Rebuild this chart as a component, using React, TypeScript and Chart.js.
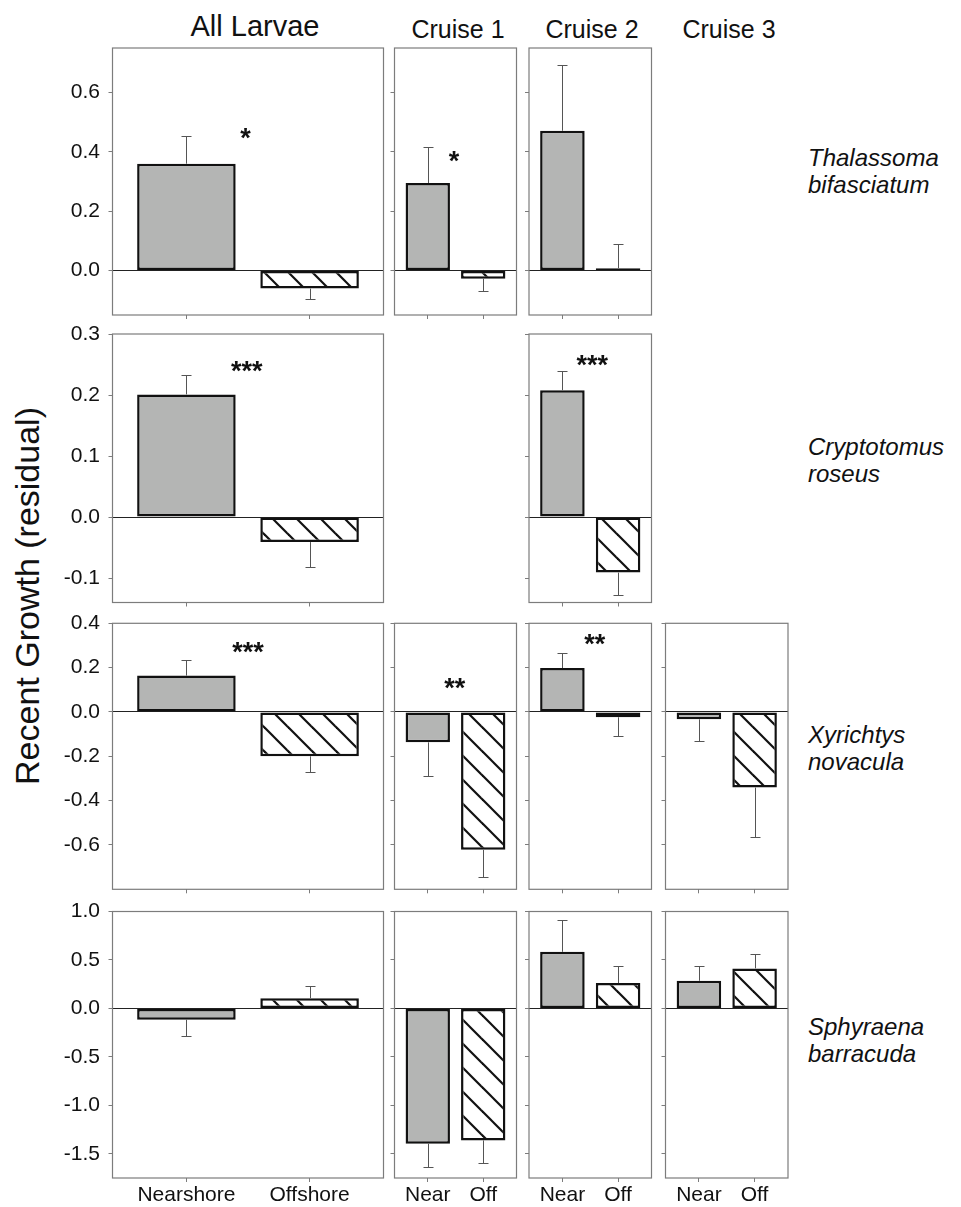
import React, { useEffect, useRef } from 'react';
import { Chart, registerables } from 'chart.js';

Chart.register(...registerables);

const FONT = '"Liberation Sans", Arial, Helvetica, sans-serif';

// ---------------- DATA ----------------
const columnTitles = ['All Larvae', 'Cruise 1', 'Cruise 2', 'Cruise 3'];
const speciesLine1 = ['Thalassoma', 'Cryptotomus', 'Xyrichtys', 'Sphyraena'];
const speciesLine2 = ['bifasciatum', 'roseus', 'novacula', 'barracuda'];
const allLabels = ['Nearshore', 'Offshore'];
const cruiseLabels = ['Near', 'Off'];
const yAxisTitle = 'Recent Growth (residual)';

const rowMin = [-0.15, -0.14, -0.8, -1.75];
const rowMax = [0.75, 0.3, 0.4, 1.0];
const ticksThal = [0, 0.2, 0.4, 0.6];
const ticksCryp = [-0.1, 0, 0.1, 0.2, 0.3];
const ticksXyr = [-0.6, -0.4, -0.2, 0, 0.2, 0.4];
const ticksSphy = [-1.5, -1.0, -0.5, 0, 0.5, 1.0];

// [Nearshore, Offshore] means and standard errors
const thalAll = [0.36, -0.061];
const thalAllSE = [0.094, 0.036];
const thalC1 = [0.295, -0.028];
const thalC1SE = [0.121, 0.042];
const thalC2 = [0.471, 0.008];
const thalC2SE = [0.221, 0.08];

const crypAll = [0.201, -0.041];
const crypAllSE = [0.031, 0.041];
const crypC2 = [0.208, -0.091];
const crypC2SE = [0.032, 0.037];

const xyrAll = [0.164, -0.2];
const xyrAllSE = [0.069, 0.07];
const xyrC1 = [-0.137, -0.622];
const xyrC1SE = [0.154, 0.121];
const xyrC2 = [0.198, -0.024];
const xyrC2SE = [0.07, 0.083];
const xyrC3 = [-0.033, -0.341];
const xyrC3SE = [0.097, 0.222];

const sphyAll = [-0.117, 0.106];
const sphyAllSE = [0.172, 0.128];
const sphyC1 = [-1.396, -1.362];
const sphyC1SE = [0.242, 0.238];
const sphyC2 = [0.584, 0.261];
const sphyC2SE = [0.324, 0.179];
const sphyC3 = [0.285, 0.413];
const sphyC3SE = [0.152, 0.144];

// significance marks: text, x (category units), y (value at glyph centre)
const starsThalAll = ['*', 0.48, 0.469];
const starsThalC1 = ['*', 0.475, 0.389];
const starsCrypAll = ['***', 0.49, 0.25];
const starsCrypC2 = ['***', 0.536, 0.259];
const starsXyrAll = ['***', 0.5, 0.3];
const starsXyrC1 = ['**', 0.485, 0.136];
const starsXyrC2 = ['**', 0.58, 0.334];

// ---------------- LAYOUT ----------------
const colX = [112.5, 394.5, 529, 665.5];
const colW = [271, 122, 122.5, 122.5];
const rowY = [48, 334, 623.3, 911.5];
const rowH = [267, 268.5, 266, 266.5];
const rowTicks = [ticksThal, ticksCryp, ticksXyr, ticksSphy];

const GRAY = '#b4b5b4';

type PanelDef = {
  row: number;
  col: number;
  means: number[];
  se: number[];
  stars?: any[];
};

const panels: PanelDef[] = [
  { row: 0, col: 0, means: thalAll, se: thalAllSE, stars: starsThalAll },
  { row: 0, col: 1, means: thalC1, se: thalC1SE, stars: starsThalC1 },
  { row: 0, col: 2, means: thalC2, se: thalC2SE },
  { row: 1, col: 0, means: crypAll, se: crypAllSE, stars: starsCrypAll },
  { row: 1, col: 2, means: crypC2, se: crypC2SE, stars: starsCrypC2 },
  { row: 2, col: 0, means: xyrAll, se: xyrAllSE, stars: starsXyrAll },
  { row: 2, col: 1, means: xyrC1, se: xyrC1SE, stars: starsXyrC1 },
  { row: 2, col: 2, means: xyrC2, se: xyrC2SE, stars: starsXyrC2 },
  { row: 2, col: 3, means: xyrC3, se: xyrC3SE },
  { row: 3, col: 0, means: sphyAll, se: sphyAllSE },
  { row: 3, col: 1, means: sphyC1, se: sphyC1SE },
  { row: 3, col: 2, means: sphyC2, se: sphyC2SE },
  { row: 3, col: 3, means: sphyC3, se: sphyC3SE },
];

function makeHatch(ctx: CanvasRenderingContext2D) {
  const s = 24;
  const c = document.createElement('canvas');
  c.width = s;
  c.height = s;
  const g = c.getContext('2d')!;
  g.fillStyle = '#ffffff';
  g.fillRect(0, 0, s, s);
  g.strokeStyle = '#111111';
  g.lineWidth = 2.2;
  for (const k of [-1, 0, 1]) {
    g.beginPath();
    g.moveTo(k * s - 4, -4);
    g.lineTo(k * s + s + 4, s + 4);
    g.stroke();
  }
  return ctx.createPattern(c, 'repeat');
}

function Panel({ p }: { p: PanelDef }) {
  const ref = useRef<HTMLCanvasElement>(null);
  const px = colX[p.col];
  const pw = colW[p.col];
  const py = rowY[p.row];
  const ph = rowH[p.row];
  const showY = p.col === 0;
  const showX = p.row === 3;
  const L0 = showY ? 112 : 8;
  const cl = Math.floor(px) - L0;
  const ct = Math.floor(py) - 16;
  const L = px - cl;
  const T = py - ct;
  const B = showX ? 40 : 8;
  const cw = Math.ceil(L + pw + 6);
  const ch = Math.ceil(T + ph + B);

  useEffect(() => {
    const canvas = ref.current!;
    const ctx = canvas.getContext('2d')!;
    const hatch = makeHatch(ctx);
    const labels = p.col === 0 ? allLabels : cruiseLabels;
    const ticks = rowTicks[p.row];

    const decor = {
      id: 'decor' + p.row + p.col,
      beforeDatasetsDraw(chart: any) {
        const a = chart.chartArea;
        const c = chart.ctx;
        c.save();
        c.strokeStyle = '#7c7c7c';
        c.lineWidth = 1.2;
        c.strokeRect(a.left, a.top, a.right - a.left, a.bottom - a.top);
        c.restore();
      },
      afterDatasetsDraw(chart: any) {
        const c = chart.ctx;
        const xs = chart.scales.x;
        const ys = chart.scales.y;
        c.save();
        c.strokeStyle = '#555555';
        c.lineWidth = 1;
        p.means.forEach((m, i) => {
          const dir = m >= 0 ? 1 : -1;
          const x = Math.round(xs.getPixelForValue(i)) + 0.5;
          const y0 = ys.getPixelForValue(m);
          const y1 = Math.round(ys.getPixelForValue(m + dir * p.se[i])) + 0.5;
          c.beginPath();
          c.moveTo(x, y0);
          c.lineTo(x, y1);
          c.moveTo(x - 5, y1);
          c.lineTo(x + 5, y1);
          c.stroke();
        });
        if (p.stars) {
          const fs = 27;
          c.fillStyle = '#111111';
          c.font = `bold ${fs}px ${FONT}`;
          c.textAlign = 'center';
          c.textBaseline = 'alphabetic';
          const sx = xs.getPixelForValue(p.stars[1] as number);
          const sy = ys.getPixelForValue(p.stars[2] as number) + 0.57 * fs;
          c.fillText(p.stars[0] as string, sx, sy);
        }
        c.restore();
      },
    };

    const chart = new Chart(canvas, {
      type: 'bar',
      data: {
        datasets: [
          {
            data: p.means.map((m, i) => ({ x: i, y: m })),
            backgroundColor: [GRAY, hatch as any],
            borderColor: '#111111',
            borderWidth: 2.5,
            borderSkipped: false,
            barPercentage: 0.8,
            categoryPercentage: 1,
          } as any,
        ],
      },
      options: {
        animation: false,
        responsive: false,
        devicePixelRatio: 1,
        events: [],
        layout: {
          autoPadding: false,
          padding: { left: 0, top: T, right: cw - L - pw, bottom: 0 },
        },
        plugins: {
          legend: { display: false },
          tooltip: { enabled: false },
          title: { display: false },
        },
        scales: {
          x: {
            type: 'linear',
            min: -0.6,
            max: 1.6,
            offset: false,
            afterBuildTicks: (s: any) => {
              s.ticks = [{ value: 0 }, { value: 1 }];
            },
            afterFit: (s: any) => {
              s.height = ch - T - ph;
              s.paddingLeft = 0;
              s.paddingRight = 0;
              s.paddingTop = 0;
              s.paddingBottom = 0;
            },
            grid: {
              display: true,
              drawOnChartArea: false,
              drawTicks: true,
              tickLength: 4,
              tickColor: '#7c7c7c',
              offset: false,
            },
            border: { display: false },
            ticks: {
              display: showX,
              autoSkip: false,
              maxRotation: 0,
              padding: 1,
              color: '#111111',
              font: { family: FONT, size: 21 },
              callback: (v: any) => labels[v as number] ?? '',
            },
          },
          y: {
            type: 'linear',
            min: rowMin[p.row],
            max: rowMax[p.row],
            afterBuildTicks: (s: any) => {
              s.ticks = ticks.map((v) => ({ value: v }));
            },
            afterFit: (s: any) => {
              s.width = L;
              s.paddingLeft = 0;
              s.paddingRight = 0;
              s.paddingTop = 0;
              s.paddingBottom = 0;
            },
            grid: {
              display: true,
              drawOnChartArea: true,
              drawTicks: true,
              tickLength: 4,
              tickColor: '#7c7c7c',
              lineWidth: 1,
              color: (c: any) =>
                c.tick && c.tick.value === 0 ? '#222222' : 'rgba(0,0,0,0)',
            },
            border: { display: false },
            ticks: {
              display: showY,
              padding: 8.5,
              color: '#111111',
              font: { family: FONT, size: 21 },
              callback: (v: any) => Number(v).toFixed(1),
            },
          },
        },
      } as any,
      plugins: [decor],
    });
    return () => chart.destroy();
  }, []);

  return (
    <canvas
      ref={ref}
      width={cw}
      height={ch}
      style={{ position: 'absolute', left: cl, top: ct, width: cw, height: ch }}
    />
  );
}

const titleX = [255, 458, 592, 729];
const titleY = [26, 29, 29, 29];
const titleSize = [29, 25, 25, 25];
const speciesCY = [171, 460, 748, 1040];

export default function App() {
  return (
    <div
      style={{
        position: 'absolute',
        left: 0,
        top: 0,
        width: 961,
        height: 1207,
        background: '#ffffff',
        fontFamily: FONT,
        color: '#111111',
        overflow: 'hidden',
      }}
    >
      {columnTitles.map((t, i) => (
        <div
          key={t}
          style={{
            position: 'absolute',
            left: titleX[i] - 100,
            width: 200,
            top: titleY[i] - 18,
            height: 36,
            lineHeight: '36px',
            textAlign: 'center',
            fontSize: titleSize[i],
            whiteSpace: 'nowrap',
          }}
        >
          {t}
        </div>
      ))}
      {speciesLine1.map((s, i) => (
        <div
          key={s}
          style={{
            position: 'absolute',
            left: 808,
            top: speciesCY[i] - 27,
            fontSize: 24,
            lineHeight: '27px',
            fontStyle: 'italic',
            whiteSpace: 'nowrap',
          }}
        >
          {s}
          <br />
          {speciesLine2[i]}
        </div>
      ))}
      <div
        style={{
          position: 'absolute',
          left: 27 - 220,
          top: 596 - 20,
          width: 440,
          height: 40,
          lineHeight: '40px',
          textAlign: 'center',
          fontSize: 34,
          whiteSpace: 'nowrap',
          transform: 'rotate(-90deg)',
          transformOrigin: '50% 50%',
        }}
      >
        {yAxisTitle}
      </div>
      {panels.map((p) => (
        <Panel key={`${p.row}-${p.col}`} p={p} />
      ))}
    </div>
  );
}
